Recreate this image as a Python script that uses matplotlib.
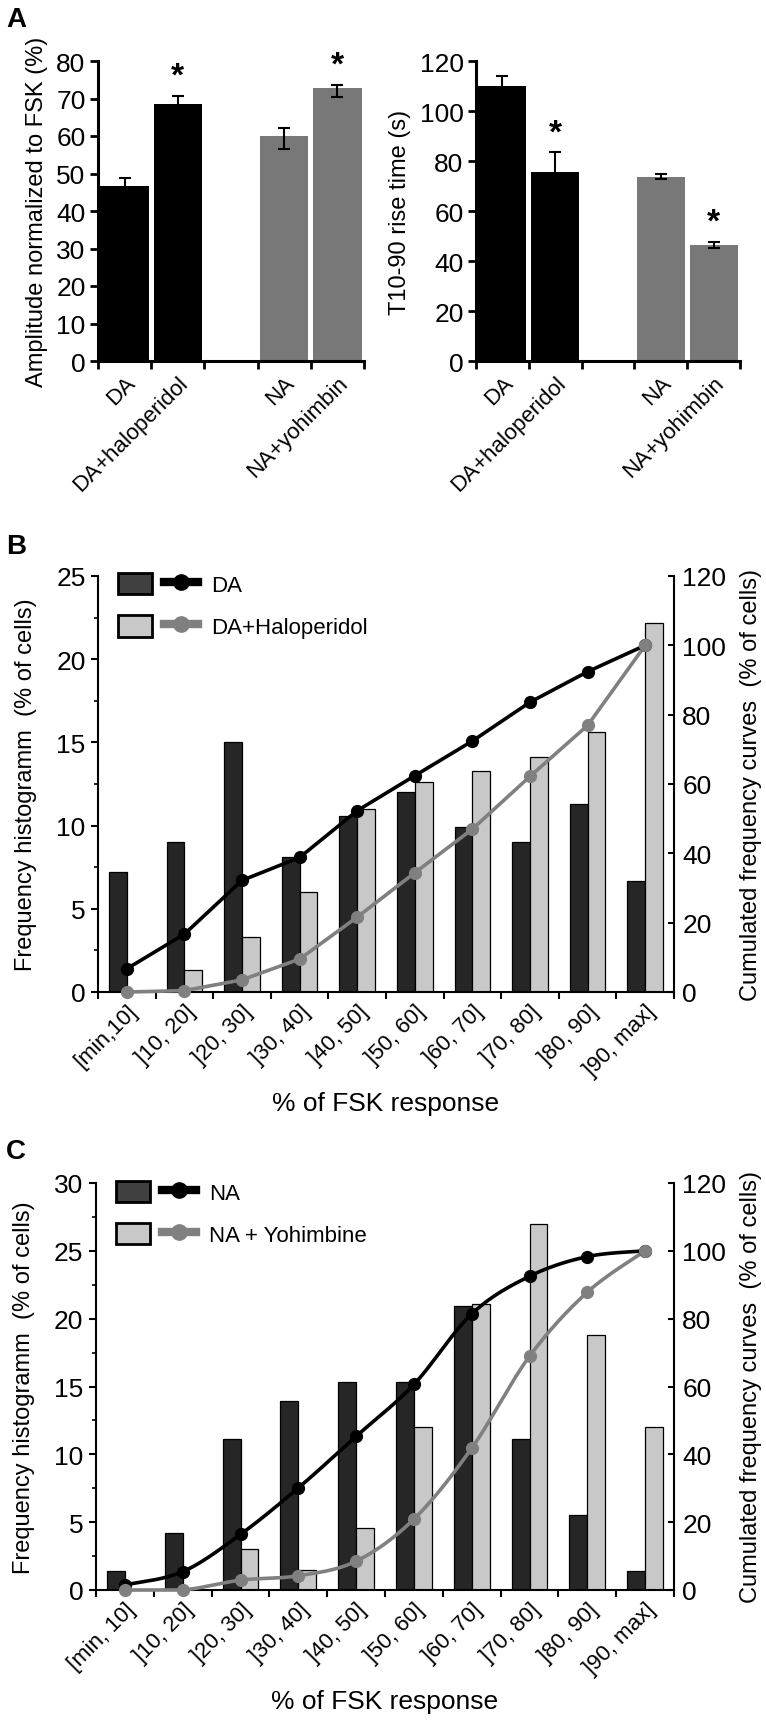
import numpy as np
import matplotlib
matplotlib.use("Agg")
import matplotlib.pyplot as plt
from matplotlib.patches import Rectangle
from matplotlib.lines import Line2D
from matplotlib.legend_handler import HandlerTuple

plt.rcParams['font.family'] = ['Liberation Sans', 'DejaVu Sans']
NARROW = ['Liberation Sans Narrow', 'Liberation Sans', 'DejaVu Sans']

# ---------------- data ----------------
groups_A = ["DA", "DA+haloperidol", "NA", "NA+yohimbin"]
amp_mean = [46.8, 68.5, 60.1, 72.7]
amp_err_lo = [1.9, 2.2, 3.6, 2.2]
amp_err_hi = [1.9, 2.2, 2.1, 0.9]
rise_mean = [110.1, 75.7, 73.7, 46.5]
rise_err_lo = [3.8, 7.8, 1.0, 1.1]
rise_err_hi = [3.8, 7.8, 1.1, 1.2]
amp_sig = [False, True, False, True]
rise_sig = [False, True, False, True]

bins_B = ["[min,10]", "]10, 20]", "]20, 30]", "]30, 40]", "]40, 50]",
          "]50, 60]", "]60, 70]", "]70, 80]", "]80, 90]", "]90, max]"]
freq_DA = [7.2, 9.0, 15.0, 8.1, 10.6, 12.0, 9.9, 9.0, 11.3, 6.7]
freq_DAhal = [0.0, 1.3, 3.3, 6.0, 11.0, 12.6, 13.3, 14.1, 15.6, 22.2]
cum_DA = [6.7, 16.7, 32.2, 38.8, 52.3, 62.4, 72.4, 83.6, 92.4, 100.0]
cum_DAhal = [0.0, 0.4, 3.5, 9.5, 21.6, 34.4, 47.0, 62.2, 76.9, 100.0]

bins_C = ["[min, 10]", "]10, 20]", "]20, 30]", "]30, 40]", "]40, 50]",
          "]50, 60]", "]60, 70]", "]70, 80]", "]80, 90]", "]90, max]"]
freq_NA = [1.4, 4.2, 11.1, 13.9, 15.3, 15.3, 20.9, 11.1, 5.5, 1.4]
freq_NAyoh = [0.0, 0.0, 3.0, 1.5, 4.6, 12.0, 21.1, 27.0, 18.8, 12.0]
cum_NA = [1.5, 5.4, 16.4, 30.1, 45.3, 60.6, 81.4, 92.5, 98.3, 100.0]
cum_NAyoh = [0.0, 0.0, 2.9, 4.2, 8.5, 20.9, 41.8, 68.9, 87.8, 100.0]

# ---------------- styles ----------------
BLACK = '#000000'
GRAY_A = '#787878'
DARK = '#262626'
LIGHT = '#c8c8c8'
GRAY_LINE = '#808080'

W, H = 766, 1724
fig = plt.figure(figsize=(W / 100, H / 100), dpi=100)


def ax_rect(x0, x1, y0, y1):
    return [x0 / W, 1 - y1 / H, (x1 - x0) / W, (y1 - y0) / H]


def smooth(xs, ys, n=25):
    xs = np.asarray(xs, float)
    ys = np.asarray(ys, float)
    P = np.column_stack([xs, ys])
    out = [P[0]]
    for i in range(len(P) - 1):
        p0 = P[i - 1] if i > 0 else P[i]
        p1 = P[i]
        p2 = P[i + 1]
        p3 = P[i + 2] if i + 2 < len(P) else P[i + 1]
        c1 = p1 + (p2 - p0) / 6.0
        c2 = p2 - (p3 - p1) / 6.0
        t = np.linspace(0, 1, n)[1:, None]
        seg = ((1 - t) ** 3) * p1 + 3 * ((1 - t) ** 2) * t * c1 + 3 * (1 - t) * t ** 2 * c2 + t ** 3 * p2
        out.extend(seg)
    out = np.array(out)
    out[:, 1] = np.maximum(out[:, 1], 0)
    return out[:, 0], out[:, 1]


# ---------------- Panel A ----------------
slot_pos = [0, 1, 3, 4]
colors_A = [BLACK, BLACK, GRAY_A, GRAY_A]


def panel_A(rect, means, elo, ehi, sig, ymax, ystep, ylabel):
    ax = fig.add_axes(rect)
    ax.bar(slot_pos, means, width=0.91, color=colors_A, edgecolor='none', zorder=2)
    ax.errorbar(slot_pos, means, yerr=[elo, ehi], fmt='none', ecolor='black',
                elinewidth=1.5, capsize=4.5, capthick=1.5, zorder=3)
    for x, m, e, s in zip(slot_pos, means, ehi, sig):
        if s:
            ax.annotate('*', xy=(x, m + e), xytext=(0, 3), textcoords='offset points',
                        ha='center', va='bottom', fontsize=24, fontweight='bold')
    ax.set_xlim(-0.5, 4.5)
    ax.set_ylim(0, ymax)
    ax.set_yticks(np.arange(0, ymax + 1, ystep))
    ax.set_xticks(np.arange(-0.5, 4.6, 1.0))
    ax.set_xticklabels([])
    ax.set_xticks(slot_pos, minor=True)
    ax.set_xticklabels(groups_A, minor=True, rotation=45, ha='right',
                       rotation_mode='anchor', fontsize=16)
    ax.tick_params(axis='x', which='minor', length=0, pad=8)
    ax.tick_params(axis='x', which='major', length=6, width=2, direction='out')
    ax.tick_params(axis='y', length=6, width=2, labelsize=19, pad=3)
    for s in ['top', 'right']:
        ax.spines[s].set_visible(False)
    for s in ['left', 'bottom']:
        ax.spines[s].set_linewidth(2.2)
    ax.set_ylabel(ylabel, fontsize=17, labelpad=6)
    return ax


axA1 = panel_A(ax_rect(98, 364, 62, 362), amp_mean, amp_err_lo, amp_err_hi, amp_sig,
               80, 10, 'Amplitude normalized to FSK (%)')
axA2 = panel_A(ax_rect(476, 740, 62, 362), rise_mean, rise_err_lo, rise_err_hi, rise_sig,
               120, 20, 'T10-90 rise time (s)')

# ---------------- Panels B / C ----------------


def panel_hist(rect, bins, f1, f2, c1, c2, ymax_left, ystep, labels, smooth_lines):
    ax = fig.add_axes(rect)
    x = np.arange(len(bins))
    ax.bar(x - 0.155, f1, width=0.31, color=DARK, edgecolor='black', linewidth=0.9, zorder=2)
    ax.bar(x + 0.155, f2, width=0.31, color=LIGHT, edgecolor='black', linewidth=0.9, zorder=2)
    ax.set_xlim(-0.5, len(bins) - 0.5)
    ax.set_ylim(0, ymax_left)
    ax.set_yticks(np.arange(0, ymax_left + 0.1, ystep))
    ax.set_yticks(np.arange(ystep / 2, ymax_left, ystep), minor=True)
    ax.set_yticklabels([str(int(v)) for v in np.arange(0, ymax_left + 0.1, ystep)],
                       fontfamily=NARROW, fontsize=19)
    ax.set_xticks(np.arange(-0.5, len(bins), 1.0))
    ax.set_xticklabels([])
    ax.set_xticks(x, minor=True)
    ax.set_xticklabels(bins, minor=True, rotation=45, ha='right', rotation_mode='anchor',
                       fontfamily=NARROW, fontsize=16)
    ax.tick_params(axis='x', which='minor', length=0, pad=6)
    ax.tick_params(axis='x', which='major', length=5, width=1.5, direction='out')
    ax.tick_params(axis='y', which='major', length=5, width=1.5, direction='out', pad=4)
    ax.tick_params(axis='y', which='minor', length=3, width=1.2, direction='out')
    ax.spines['top'].set_visible(False)
    ax.spines['right'].set_visible(False)
    ax.spines['left'].set_linewidth(1.5)
    ax.spines['bottom'].set_linewidth(1.5)
    ax.set_xlabel('% of FSK response', fontfamily=NARROW, fontsize=19, labelpad=8)
    ax.set_ylabel('Frequency histogramm  (% of cells)', fontsize=17, labelpad=14)

    ax2 = ax.twinx()
    ax2.set_ylim(0, 120)
    ax2.set_yticks(np.arange(0, 121, 20))
    ax2.set_yticklabels([str(v) for v in range(0, 121, 20)], fontfamily=NARROW, fontsize=19)
    ax2.tick_params(axis='y', length=4, width=1.5, direction='in', pad=6)
    ax2.spines['top'].set_visible(False)
    ax2.spines['left'].set_visible(False)
    ax2.spines['bottom'].set_visible(False)
    ax2.spines['right'].set_linewidth(1.5)
    ax2.set_ylabel('Cumulated frequency curves  (% of cells)', fontsize=17, labelpad=10)
    for cum, col in [(c1, 'black'), (c2, GRAY_LINE)]:
        if smooth_lines:
            sx, sy = smooth(x, cum)
        else:
            sx, sy = x, cum
        ax2.plot(sx, sy, color=col, lw=2.6, zorder=3, clip_on=False)
        ax2.plot(x, cum, linestyle='none', marker='o', ms=8.5, color=col, zorder=4, clip_on=False)

    h1 = (Rectangle((0, 0), 1, 1, facecolor='#404040', edgecolor='black', linewidth=2),
          Line2D([], [], color='black', lw=6, marker='o', ms=11))
    h2 = (Rectangle((0, 0), 1, 1, facecolor=LIGHT, edgecolor='black', linewidth=2),
          Line2D([], [], color=GRAY_LINE, lw=6, marker='o', ms=11))
    ax.legend([h1, h2], labels, handler_map={tuple: HandlerTuple(ndivide=None, pad=0.5)},
              loc='upper left', bbox_to_anchor=(0.0, 1.055), frameon=False,
              handlelength=3.6, handleheight=1.1, labelspacing=0.85, handletextpad=0.6,
              fontsize=16)
    return ax, ax2


panel_hist(ax_rect(98, 674, 577, 993), bins_B, freq_DA, freq_DAhal, cum_DA, cum_DAhal,
           25, 5, ['DA', 'DA+Haloperidol'], False)
panel_hist(ax_rect(96, 674, 1184, 1591), bins_C, freq_NA, freq_NAyoh, cum_NA, cum_NAyoh,
           30, 5, ['NA', 'NA + Yohimbine'], True)

# Panel letters
fig.text(6 / W, 1 - 20 / H, 'A', fontsize=20, fontweight='bold', va='center', ha='left')
fig.text(6 / W, 1 - 547 / H, 'B', fontsize=20, fontweight='bold', va='center', ha='left')
fig.text(6 / W, 1 - 1152 / H, 'C', fontsize=20, fontweight='bold', va='center', ha='left')

fig.savefig('out.png', dpi=100)
